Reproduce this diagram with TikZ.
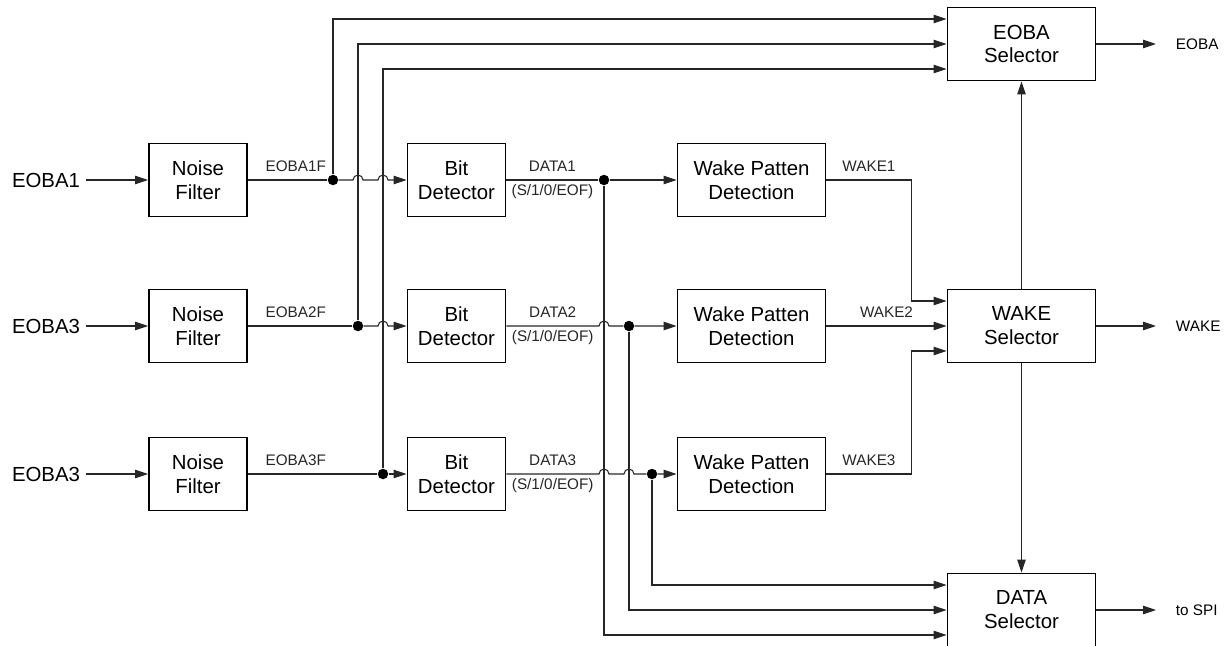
\documentclass[tikz,border=0pt]{standalone}
\usepackage{fontspec}
\setmainfont{Liberation Sans}
\usetikzlibrary{arrows.meta,positioning,calc}

\begin{document}
\begin{tikzpicture}[
  x=0.2mm, y=-0.2mm,
  blk/.style={draw, line width=1.1pt, minimum height=14.6mm, align=center,
              font=\fontsize{11.6}{13.6}\selectfont, inner sep=0pt},
  short/.style={blk, minimum width=19.6mm},
  long/.style={blk, minimum width=29.6mm},
  wire/.style={line width=0.6pt, black!85},
  sig/.style={wire, -{Triangle[length=2.6mm,width=1.7mm]}},
  lbl/.style={font=\fontsize{8.7}{10}\selectfont, inner sep=1.5pt},
  inp/.style={font=\fontsize{11.6}{13.6}\selectfont},
  dot/.style={circle, fill, inner sep=0pt, minimum size=2.1mm},
]
\useasboundingbox (0,0) rectangle (1231,646);

% inputs
\node[inp] (in1) at (46,180) {EOBA1};
\node[inp] (in2) at (46,326) {EOBA3};
\node[inp] (in3) at (46,474) {EOBA3};

% blocks
\node[short] (nf1) at (198,180) {Noise\\Filter};
\node[short] (nf2) at (198,326) {Noise\\Filter};
\node[short] (nf3) at (198,474) {Noise\\Filter};
\node[short] (bd1) at (456.5,180) {Bit\\Detector};
\node[short] (bd2) at (456.5,326) {Bit\\Detector};
\node[short] (bd3) at (456.5,474) {Bit\\Detector};
\node[long] (wd1) at (751.5,180) {Wake Patten\\Detection};
\node[long] (wd2) at (751.5,326) {Wake Patten\\Detection};
\node[long] (wd3) at (751.5,474) {Wake Patten\\Detection};
\node[long] (es) at (1021.5,44)  {EOBA\\Selector};
\node[long] (ws) at (1021.5,326) {WAKE\\Selector};
\node[long] (ds) at (1021.5,610) {DATA\\Selector};

% outputs
\node[lbl, anchor=west] (oeoba) at (1173,44)  {EOBA};
\node[lbl, anchor=west] (owake) at (1173,326) {WAKE};
\node[lbl, anchor=west] (ospi)  at (1173,610) {to SPI};

% junctions
\node[dot] (j1) at (333,180) {};
\node[dot] (j2) at (358,326) {};
\node[dot] (j3) at (383,474) {};
\node[dot] (k1) at (604,180) {};
\node[dot] (k2) at (629,326) {};
\node[dot] (k3) at (652,474) {};

\draw[sig] (in1) -- (nf1);
\draw[sig] (in2) -- (nf2);
\draw[sig] (in3) -- (nf3);

\draw[wire] (nf1) -- node[lbl, pos=0, above right=1.1mm and 2.9mm] {EOBA1F} (j1);
\draw[wire] (nf2) -- node[lbl, pos=0, above right=1.1mm and 2.9mm] {EOBA2F} (j2);
\draw[wire] (nf3) -- node[lbl, pos=0, above right=1.1mm and 2.9mm] {EOBA3F} (j3);

\draw[sig] (j1) -- ($(j1 -| j2)-(5,0)$) arc[start angle=180, end angle=0, radius=1mm]
                -- ($(j1 -| j3)-(5,0)$) arc[start angle=180, end angle=0, radius=1mm]
                -- (bd1);
\draw[sig] (j2) -- ($(j2 -| j3)-(5,0)$) arc[start angle=180, end angle=0, radius=1mm]
                -- (bd2);
\draw[sig] (j3) -- (bd3);

\draw[sig] (j1) |- ([yshift=5mm]es.west);
\draw[sig] (j2) |- (es.west);
\draw[sig] (j3) |- ([yshift=-5mm]es.west);

\draw[sig] (bd1) -- node[lbl, above=1.1mm] {DATA1} node[lbl, below=0.3mm] {(S/1/0/EOF)} (k1)
           -- (wd1);
\draw[sig] (bd2) -- node[lbl, above=1.1mm] {DATA2} node[lbl, below=0.3mm] {(S/1/0/EOF)}
                 ($(bd2 -| k1)-(5,0)$) arc[start angle=180, end angle=0, radius=1mm]
           -- (k2) -- (wd2);
\draw[sig] (bd3) -- node[lbl, above=1.1mm] {DATA3} node[lbl, below=0.3mm] {(S/1/0/EOF)}
                 ($(bd3 -| k1)-(5,0)$) arc[start angle=180, end angle=0, radius=1mm]
           -- ($(bd3 -| k2)-(5,0)$) arc[start angle=180, end angle=0, radius=1mm]
           -- (k3) -- (wd3);

\draw[sig] (k1) |- ([yshift=-5mm]ds.west);
\draw[sig] (k2) |- (ds.west);
\draw[sig] (k3) |- ([yshift=5mm]ds.west);

\draw[sig] (wd1.east) -- node[lbl, above=1.1mm] {WAKE1} ++(17mm,0) |- ([yshift=5mm]ws.west);
\draw[sig] (wd2) -- node[lbl, above=1.1mm] {WAKE2} (ws);
\draw[sig] (wd3.east) -- node[lbl, above=1.1mm] {WAKE3} ++(17mm,0) |- ([yshift=-5mm]ws.west);

\draw[sig] (ws) -- (es);
\draw[sig] (ws) -- (ds);

\draw[sig] (es) -- ([xshift=-3.4mm]oeoba.west);
\draw[sig] (ws) -- ([xshift=-3.4mm]owake.west);
\draw[sig] (ds) -- ([xshift=-3.4mm]ospi.west);
\end{tikzpicture}
\end{document}
